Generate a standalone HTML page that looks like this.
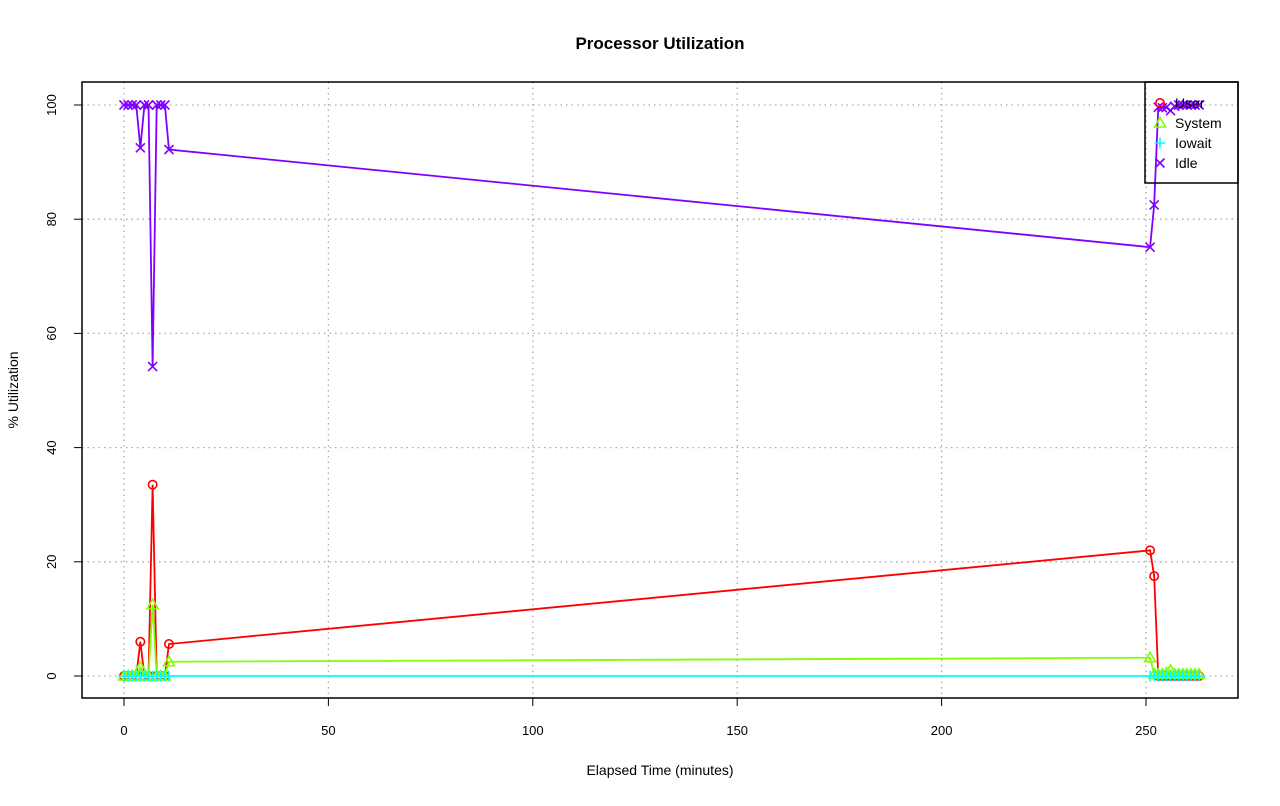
<!DOCTYPE html>
<html><head><meta charset="utf-8"><style>
body{margin:0;background:#fff;}
svg text{font-family:"Liberation Sans",Arial,sans-serif;}
</style></head><body>
<svg id="s" width="1280" height="801" xmlns="http://www.w3.org/2000/svg">
<rect width="1280" height="801" fill="#fff"/>
<text x="660" y="49" text-anchor="middle" font-size="17" font-weight="bold">Processor Utilization</text>
<text x="660" y="775" text-anchor="middle" font-size="14">Elapsed Time (minutes)</text>
<text transform="translate(18,390) rotate(-90)" text-anchor="middle" font-size="14">% Utilization</text>
<g id="g"></g>
<rect x="82" y="82" width="1156" height="616" fill="none" stroke="#000" stroke-width="1.5"/>
</svg>
<script>
const g=document.getElementById('g');
const X=t=>124+t*4.088, Y=v=>676-v*5.71;
let h='';
for(let t=0;t<=250;t+=50){h+=`<line x1="${X(t)}" y1="82" x2="${X(t)}" y2="698" stroke="#aaa" stroke-width="1.3" stroke-dasharray="1.5,4"/>`;
h+=`<line x1="${X(t)}" y1="698" x2="${X(t)}" y2="706" stroke="#000"/><text x="${X(t)}" y="735" text-anchor="middle" font-size="13">${t}</text>`;}
for(let v=0;v<=100;v+=20){h+=`<line x1="82" y1="${Y(v)}" x2="1238" y2="${Y(v)}" stroke="#aaa" stroke-width="1.3" stroke-dasharray="1.5,4"/>`;
h+=`<line x1="74" y1="${Y(v)}" x2="82" y2="${Y(v)}" stroke="#000"/><text transform="translate(56,${Y(v)}) rotate(-90)" text-anchor="middle" font-size="13">${v}</text>`;}
const ts=[0,1,2,3,4,5,6,7,8,9,10,11,251,252,253,254,255,256,257,258,259,260,261,262,263];
const idle=[100,100,100,100,92.5,100,100,54.2,100,100,100,92.2,75.1,82.5,99.6,99.5,99.6,99,99.8,100,100,100,100,100,100];
const user=[0,0,0,0,6,0,0,33.5,0,0,0,5.6,22,17.5,0,0,0,0,0,0,0,0,0,0,0];
const sys=[0,0,0,0,1.5,0,0,12.5,0,0,0,2.5,3.2,0.3,0.3,0.3,0.5,1,0.3,0.3,0.3,0.3,0.3,0.3,0.3];
const io=ts.map(()=>0);
function line(d,c){return `<polyline fill="none" stroke="${c}" stroke-width="1.8" points="${ts.map((t,i)=>X(t)+','+Y(d[i])).join(' ')}"/>`;}
function pts(d,c,type){let s='';ts.forEach((t,i)=>{const x=X(t),y=Y(d[i]);s+=mark(x,y,c,type);});return s;}
function mark(x,y,c,type){
 if(type=='o')return `<circle cx="${x}" cy="${y}" r="4.2" fill="none" stroke="${c}" stroke-width="1.6"/>`;
 if(type=='t')return `<polygon points="${x},${y-5.5} ${x-5.5},${y+4} ${x+5.5},${y+4}" fill="none" stroke="${c}" stroke-width="1.6"/>`;
 if(type=='+')return `<path d="M${x-5.5},${y}H${x+5.5}M${x},${y-5.5}V${y+5.5}" stroke="${c}" stroke-width="1.6"/>`;
 return `<path d="M${x-4.5},${y-4.5}L${x+4.5},${y+4.5}M${x-4.5},${y+4.5}L${x+4.5},${y-4.5}" stroke="${c}" stroke-width="1.6"/>`;}
h+=line(user,'#f00')+pts(user,'#f00','o');
h+=line(sys,'#80ff00')+pts(sys,'#80ff00','t');
h+=line(io,'#00ffff')+pts(io,'#00ffff','+');
h+=line(idle,'#8000ff')+pts(idle,'#8000ff','x');
h+=`<rect x="1145" y="82" width="93" height="101" fill="none" stroke="#000" stroke-width="1.5"/>`;
const L=[['User','#f00','o'],['System','#80ff00','t'],['Iowait','#00ffff','+'],['Idle','#8000ff','x']];
L.forEach((l,i)=>{const y=103+i*20;h+=mark(1160,y,l[1],l[2])+`<text x="1175" y="${y+5}" font-size="14">${l[0]}</text>`;});
g.innerHTML=h;
</script>
</body></html>
